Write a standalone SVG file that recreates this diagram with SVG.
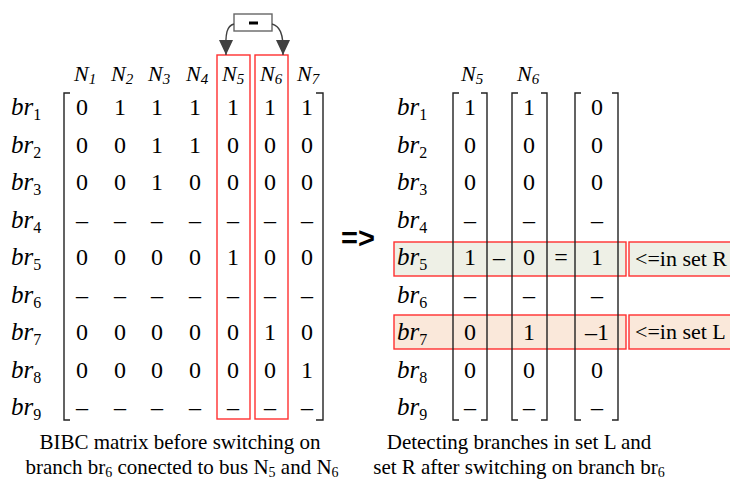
<svg xmlns="http://www.w3.org/2000/svg" width="730" height="482" viewBox="0 0 730 482">
<style>
text{font-family:"Liberation Serif","Times New Roman",serif;fill:#000}
.v{font-size:24px;text-anchor:middle}
.br{font-size:25px;font-style:italic}
.sub{font-size:16px;font-style:normal}
.nh{font-size:22px;font-style:italic}
.nsub{font-size:15px;font-style:italic}
.cap{font-size:21px;text-anchor:middle}
.csub{font-size:14px}
.brk{fill:none;stroke:#222;stroke-width:1.4}
.red{fill:none;stroke:#ff3030;stroke-width:1.4}
.conn{fill:none;stroke:#404040;stroke-width:1.4}
</style>
<defs>
<marker id="ah" viewBox="0 0 14 15" refX="7" refY="15" markerWidth="14" markerHeight="15" markerUnits="userSpaceOnUse" orient="0">
<path d="M0,0 L14,0 L7,15 Z" fill="#404040"/>
</marker>
</defs>
<rect width="730" height="482" fill="#fff"/>

<g id="rowR">
<rect x="394" y="242" width="232" height="34" fill="#eef0e6" stroke="#ff3030" stroke-width="1.4"/>
<rect x="629" y="242" width="105" height="34" fill="#eef0e6" stroke="#ff3030" stroke-width="1.4"/>
<text x="635" y="266" style="font-size:22px">&lt;=in set R</text>
</g>
<g id="rowL">
<rect x="394" y="315" width="232" height="34" fill="#fae8da" stroke="#ff3030" stroke-width="1.4"/>
<rect x="629" y="315" width="105" height="34" fill="#fae8da" stroke="#ff3030" stroke-width="1.4"/>
<text x="635" y="339" style="font-size:22px">&lt;=in set L</text>
</g>

<g id="leftHeaders">
<text class="nh" x="74" y="81">N<tspan class="nsub" dy="3">1</tspan></text>
<text class="nh" x="111" y="81">N<tspan class="nsub" dy="3">2</tspan></text>
<text class="nh" x="148" y="81">N<tspan class="nsub" dy="3">3</tspan></text>
<text class="nh" x="186" y="81">N<tspan class="nsub" dy="3">4</tspan></text>
<text class="nh" x="222" y="81">N<tspan class="nsub" dy="3">5</tspan></text>
<text class="nh" x="260" y="81">N<tspan class="nsub" dy="3">6</tspan></text>
<text class="nh" x="297" y="81">N<tspan class="nsub" dy="3">7</tspan></text>
</g>
<g id="leftRowLabels">
<text class="br" x="11" y="115">br<tspan class="sub" dy="5">1</tspan></text>
<text class="br" x="11" y="152.5">br<tspan class="sub" dy="5">2</tspan></text>
<text class="br" x="11" y="190">br<tspan class="sub" dy="5">3</tspan></text>
<text class="br" x="11" y="227.5">br<tspan class="sub" dy="5">4</tspan></text>
<text class="br" x="11" y="265">br<tspan class="sub" dy="5">5</tspan></text>
<text class="br" x="11" y="302.5">br<tspan class="sub" dy="5">6</tspan></text>
<text class="br" x="11" y="340">br<tspan class="sub" dy="5">7</tspan></text>
<text class="br" x="11" y="377.5">br<tspan class="sub" dy="5">8</tspan></text>
<text class="br" x="11" y="415">br<tspan class="sub" dy="5">9</tspan></text>
</g>
<g id="leftMatrix">
<path class="brk" d="M70,93 H64 V420 H70"/>
<path class="brk" d="M316,93 H323 V420 H316"/>
<text class="v" x="82" y="115">0</text><text class="v" x="120" y="115">1</text><text class="v" x="157" y="115">1</text><text class="v" x="195" y="115">1</text><text class="v" x="233" y="115">1</text><text class="v" x="270" y="115">1</text><text class="v" x="307" y="115">1</text>
<text class="v" x="82" y="152.5">0</text><text class="v" x="120" y="152.5">0</text><text class="v" x="157" y="152.5">1</text><text class="v" x="195" y="152.5">1</text><text class="v" x="233" y="152.5">0</text><text class="v" x="270" y="152.5">0</text><text class="v" x="307" y="152.5">0</text>
<text class="v" x="82" y="190">0</text><text class="v" x="120" y="190">0</text><text class="v" x="157" y="190">1</text><text class="v" x="195" y="190">0</text><text class="v" x="233" y="190">0</text><text class="v" x="270" y="190">0</text><text class="v" x="307" y="190">0</text>
<text class="v" x="82" y="227.5">–</text><text class="v" x="120" y="227.5">–</text><text class="v" x="157" y="227.5">–</text><text class="v" x="195" y="227.5">–</text><text class="v" x="233" y="227.5">–</text><text class="v" x="270" y="227.5">–</text><text class="v" x="307" y="227.5">–</text>
<text class="v" x="82" y="265">0</text><text class="v" x="120" y="265">0</text><text class="v" x="157" y="265">0</text><text class="v" x="195" y="265">0</text><text class="v" x="233" y="265">1</text><text class="v" x="270" y="265">0</text><text class="v" x="307" y="265">0</text>
<text class="v" x="82" y="302.5">–</text><text class="v" x="120" y="302.5">–</text><text class="v" x="157" y="302.5">–</text><text class="v" x="195" y="302.5">–</text><text class="v" x="233" y="302.5">–</text><text class="v" x="270" y="302.5">–</text><text class="v" x="307" y="302.5">–</text>
<text class="v" x="82" y="340">0</text><text class="v" x="120" y="340">0</text><text class="v" x="157" y="340">0</text><text class="v" x="195" y="340">0</text><text class="v" x="233" y="340">0</text><text class="v" x="270" y="340">1</text><text class="v" x="307" y="340">0</text>
<text class="v" x="82" y="377.5">0</text><text class="v" x="120" y="377.5">0</text><text class="v" x="157" y="377.5">0</text><text class="v" x="195" y="377.5">0</text><text class="v" x="233" y="377.5">0</text><text class="v" x="270" y="377.5">0</text><text class="v" x="307" y="377.5">1</text>
<text class="v" x="82" y="415">–</text><text class="v" x="120" y="415">–</text><text class="v" x="157" y="415">–</text><text class="v" x="195" y="415">–</text><text class="v" x="233" y="415">–</text><text class="v" x="270" y="415">–</text><text class="v" x="307" y="415">–</text>
</g>
<g id="colN5"><rect class="red" x="217" y="55" width="33" height="364"/></g>
<g id="colN6"><rect class="red" x="255" y="55" width="33" height="364"/></g>
<g id="minusBox">
<rect x="234" y="14" width="38" height="17" fill="#fff" stroke="#666" stroke-width="1.4"/>
<rect x="249" y="21.5" width="9" height="3" fill="#000"/>
</g>
<g id="connectors">
<path class="conn" d="M234,24 C227,26 225,32 226,55" marker-end="url(#ah)"/>
<path class="conn" d="M272,24 C279,26 284,32 283,55" marker-end="url(#ah)"/>
</g>

<g id="implies"><text x="341" y="248" style="font-family:'Liberation Sans',Arial,sans-serif;font-size:29px;font-weight:bold">=&gt;</text></g>

<g id="rightHeaders">
<text class="nh" x="461" y="81">N<tspan class="nsub" dy="3">5</tspan></text>
<text class="nh" x="517" y="81">N<tspan class="nsub" dy="3">6</tspan></text>
</g>
<g id="rightRowLabels">
<text class="br" x="397" y="115">br<tspan class="sub" dy="5">1</tspan></text>
<text class="br" x="397" y="152.5">br<tspan class="sub" dy="5">2</tspan></text>
<text class="br" x="397" y="190">br<tspan class="sub" dy="5">3</tspan></text>
<text class="br" x="397" y="227.5">br<tspan class="sub" dy="5">4</tspan></text>
<text class="br" x="397" y="265">br<tspan class="sub" dy="5">5</tspan></text>
<text class="br" x="397" y="302.5">br<tspan class="sub" dy="5">6</tspan></text>
<text class="br" x="397" y="340">br<tspan class="sub" dy="5">7</tspan></text>
<text class="br" x="397" y="377.5">br<tspan class="sub" dy="5">8</tspan></text>
<text class="br" x="397" y="415">br<tspan class="sub" dy="5">9</tspan></text>
</g>
<g id="vecN5">
<path class="brk" d="M459,93 H453 V420 H459"/>
<path class="brk" d="M481,93 H487 V420 H481"/>
<text class="v" x="470" y="115">1</text><text class="v" x="470" y="152.5">0</text><text class="v" x="470" y="190">0</text><text class="v" x="470" y="227.5">–</text><text class="v" x="470" y="265">1</text><text class="v" x="470" y="302.5">–</text><text class="v" x="470" y="340">0</text><text class="v" x="470" y="377.5">0</text><text class="v" x="470" y="415">–</text>
</g>
<g id="vecN6">
<path class="brk" d="M518,93 H512 V420 H518"/>
<path class="brk" d="M541,93 H547 V420 H541"/>
<text class="v" x="529" y="115">1</text><text class="v" x="529" y="152.5">0</text><text class="v" x="529" y="190">0</text><text class="v" x="529" y="227.5">–</text><text class="v" x="529" y="265">0</text><text class="v" x="529" y="302.5">–</text><text class="v" x="529" y="340">1</text><text class="v" x="529" y="377.5">0</text><text class="v" x="529" y="415">–</text>
</g>
<g id="vecDiff">
<path class="brk" d="M581,93 H575 V420 H581"/>
<path class="brk" d="M612,93 H618 V420 H612"/>
<text class="v" x="597" y="115">0</text><text class="v" x="597" y="152.5">0</text><text class="v" x="597" y="190">0</text><text class="v" x="597" y="227.5">–</text><text class="v" x="597" y="265">1</text><text class="v" x="597" y="302.5">–</text><text class="v" x="597" y="340">–1</text><text class="v" x="597" y="377.5">0</text><text class="v" x="597" y="415">–</text>
</g>
<g id="ops">
<text class="v" x="499" y="265">–</text>
<text class="v" x="561" y="265">=</text>
</g>

<g id="captions">
<text class="cap" x="180" y="449">BIBC matrix before switching on</text>
<text class="cap" x="182" y="474">branch br<tspan class="csub" dy="3">6</tspan><tspan dy="-3"> conected to bus N</tspan><tspan class="csub" dy="3">5</tspan><tspan dy="-3"> and N</tspan><tspan class="csub" dy="3">6</tspan></text>
<text class="cap" x="519" y="449">Detecting branches in set L and</text>
<text class="cap" x="519" y="474">set R after switching on branch br<tspan class="csub" dy="3">6</tspan></text>
</g>
</svg>
